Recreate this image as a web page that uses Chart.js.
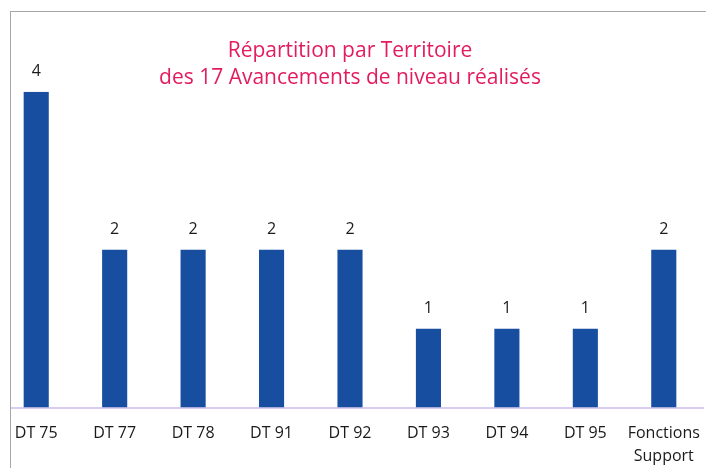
<!DOCTYPE html>
<html>
<head>
<meta charset="utf-8">
<script src="https://cdn.jsdelivr.net/npm/chart.js@4"></script>
<style>
    html, body { margin: 0; padding: 0; background: #fff; }
    body { width: 706px; height: 468px; position: relative; overflow: hidden; }
    #frame {
        position: absolute; left: 10px; top: 11px; right: 0; bottom: 0;
        border-left: 1px solid #a6a6a6; border-top: 1px solid #a6a6a6;
        overflow: hidden;
    }
    #wrap { position: absolute; left: -14px; top: -12px; width: 712px; height: 488px; }
</style>
</head>
<body>
<div id="frame"><div id="wrap"><canvas id="chart"></canvas></div></div>
<script>
const categories = ["DT 75", "DT 77", "DT 78", "DT 91", "DT 92", "DT 93", "DT 94", "DT 95", ["Fonctions", "Support"]];
const values = [4, 2, 2, 2, 2, 1, 1, 1, 2];
const titleLines = ["Répartition par Territoire", "des 17 Avancements de niveau réalisés"];

// Values written above each bar
const barLabels = {
    id: "barLabels",
    afterDatasetsDraw(chart) {
        const ctx = chart.ctx;
        const meta = chart.getDatasetMeta(0);
        ctx.save();
        ctx.fillStyle = "#1a1a1a";
        ctx.font = "16px 'Open Sans'";
        ctx.textAlign = "center";
        ctx.textBaseline = "bottom";
        meta.data.forEach(function (bar, i) {
            ctx.fillText(values[i], bar.x, bar.y - 12);
        });
        ctx.restore();
    }
};

new Chart(document.getElementById("chart"), {
    type: "bar",
    data: {
        labels: categories,
        datasets: [{
            data: values,
            backgroundColor: "#174ea0",
            barPercentage: 0.32,
            categoryPercentage: 1
        }]
    },
    options: {
        responsive: true,
        maintainAspectRatio: false,
        animation: false,
        layout: { padding: { left: 0, right: 6, top: 0, bottom: 6 } },
        plugins: {
            legend: { display: false },
            tooltip: { enabled: false },
            title: {
                display: true,
                text: titleLines,
                color: "#e31b5f",
                font: { family: "'Open Sans'", size: 21, weight: "normal", lineHeight: 1.28 },
                padding: { top: 38, bottom: 0 }
            }
        },
        scales: {
            x: {
                grid: { display: false, drawTicks: false },
                border: { display: true, color: "#d8cdf0", width: 2 },
                ticks: {
                    color: "#1a1a1a",
                    padding: 14,
                    font: { family: "'Open Sans'", size: 16, lineHeight: 1.45 },
                    maxRotation: 0,
                    autoSkip: false
                },
                afterFit(scale) {
                    scale.paddingLeft = 0;
                    scale.paddingRight = 0;
                }
            },
            y: {
                display: false,
                min: 0,
                max: 4
            }
        }
    },
    plugins: [barLabels]
});
</script>
</body>
</html>
